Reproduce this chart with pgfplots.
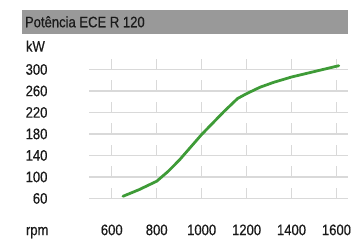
\documentclass[border=0pt]{standalone}
\usepackage{fontspec}
\setmainfont{Liberation Sans}[FakeStretch=0.86, FakeBold=0.4]
\usepackage{pgfplots}
\pgfplotsset{compat=1.18}
\definecolor{grn}{HTML}{3E9B37}
\definecolor{gridc}{HTML}{D9D9D9}
\definecolor{barc}{HTML}{999999}
\definecolor{txt}{HTML}{1A1A1A}
\begin{document}
\begin{tikzpicture}[x=1bp,y=1bp]
\path (0,0) rectangle (351,-243);
\fill[barc] (22,-10) rectangle (351,-34);
\node[anchor=west, inner sep=0, text=txt, font=\fontsize{15.3bp}{18bp}\selectfont] at (25,-22) {Potência ECE R 120};
\node[anchor=base west, inner sep=0, text=txt, font=\fontsize{15.3bp}{18bp}\selectfont] at (26,-52) {kW};
\node[anchor=base west, inner sep=0, text=txt, font=\fontsize{15.3bp}{18bp}\selectfont] at (26,-237) {rpm};
\begin{axis}[
  scale only axis, width=260.5bp, height=140.8bp,
  at={(90bp,-200bp)}, anchor=south west,
  xmin=500, xmax=1650, ymin=60, ymax=320,
  xtick={600,800,1000,1200,1400,1600},
  ytick={60,100,140,180,220,260,300},
  scaled ticks=false,
  /pgf/number format/1000 sep={},
  /pgf/number format/assume math mode=true,
  axis line style={draw=none},
  major tick length=0,
  ymajorgrids,
  grid style={gridc, line width=1.3bp},
  clip=false,
  ticklabel style={font=\fontsize{15.3bp}{18bp}\selectfont, text=txt, inner sep=0},
  yticklabel style={anchor=east, xshift=-42bp},
  xticklabel style={anchor=base, yshift=-37bp},
]
\pgfplotsinvokeforeach{600,800,1000,1200,1400,1600}{
  \draw[gridc, line width=1.3bp] (axis cs:#1,60)--(axis cs:#1,80) (axis cs:#1,100)--(axis cs:#1,120)
    (axis cs:#1,140)--(axis cs:#1,160) (axis cs:#1,180)--(axis cs:#1,200) (axis cs:#1,220)--(axis cs:#1,240)
    (axis cs:#1,260)--(axis cs:#1,280) (axis cs:#1,300)--(axis cs:#1,320);
}
\addplot[grn, line width=2.8bp, line join=round, line cap=round] coordinates {
  (650,64) (720,76) (800,92) (850,110) (900,131) (1000,179) (1100,222) (1160,246)
  (1200,255) (1260,267) (1320,276) (1400,286) (1500,296) (1610,307)
};
\end{axis}
\end{tikzpicture}
\end{document}
